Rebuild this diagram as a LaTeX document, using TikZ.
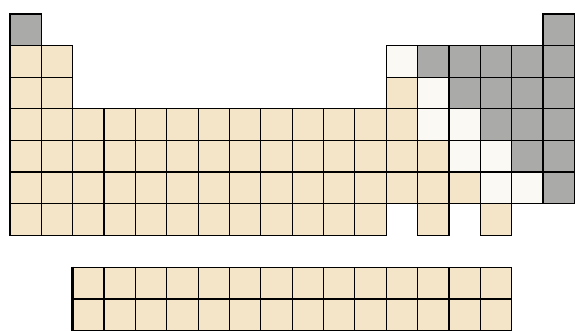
\documentclass[tikz,border=0pt]{standalone}
\definecolor{metalcol}{RGB}{245,229,200}
\definecolor{semicol}{RGB}{250,249,244}
\definecolor{noncol}{RGB}{170,170,168}
\tikzset{
  metal/.style={fill=metalcol, draw=black, line width=1.2pt},
  semi/.style={fill=semicol, draw=black, line width=1.2pt},
  non/.style={fill=noncol, draw=black, line width=1.2pt}
}
% one cell of the table: column, row, style
\newcommand{\pcell}[3]{\draw[#3] ({10+(#1-1)*31.35},{14+(#2-1)*31.6}) rectangle +(31.35,31.6);}
\newcommand{\fcell}[3]{\draw[#3] ({10+(#1-1)*31.35},{267.3+(#2-1)*31.6}) rectangle +(31.35,31.6);}
\begin{document}
\begin{tikzpicture}[x=1pt, y=-1pt]
  \useasboundingbox (0,0) rectangle (577,331);
  \pcell{1}{1}{non} \pcell{18}{1}{non}
  \foreach \c in {1,2} {\pcell{\c}{2}{metal} \pcell{\c}{3}{metal}}
  \pcell{13}{2}{semi} \foreach \c in {14,...,18} \pcell{\c}{2}{non};
  \pcell{13}{3}{metal} \pcell{14}{3}{semi} \foreach \c in {15,...,18} \pcell{\c}{3}{non};
  \foreach \c in {1,...,13} \pcell{\c}{4}{metal}; \foreach \c in {14,15} \pcell{\c}{4}{semi}; \foreach \c in {16,17,18} \pcell{\c}{4}{non};
  \foreach \c in {1,...,14} \pcell{\c}{5}{metal}; \foreach \c in {15,16} \pcell{\c}{5}{semi}; \foreach \c in {17,18} \pcell{\c}{5}{non};
  \foreach \c in {1,...,15} \pcell{\c}{6}{metal}; \foreach \c in {16,17} \pcell{\c}{6}{semi}; \pcell{18}{6}{non}
  \foreach \c in {1,...,12,14,16} \pcell{\c}{7}{metal};
  % lanthanides and actinides
  \foreach \c in {3,...,16} {\fcell{\c}{1}{metal} \fcell{\c}{2}{metal}}
  \draw[line width=2.6pt] (104.05,172) -- (104.05,235.4);
  \draw[line width=2.6pt] (72.7,266.7) -- (72.7,331);
\end{tikzpicture}
\end{document}
